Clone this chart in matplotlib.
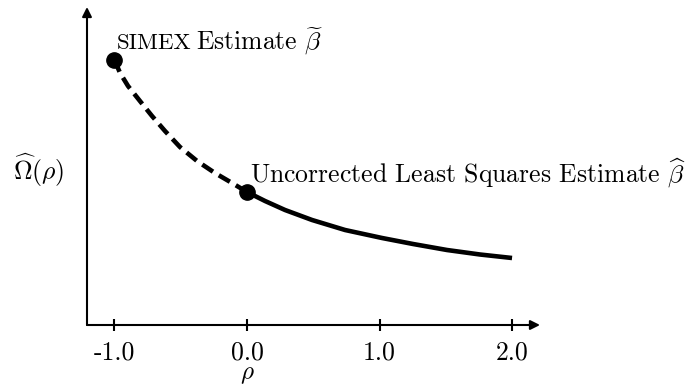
import matplotlib
matplotlib.use("Agg")
import matplotlib.pyplot as plt

plt.rcParams['font.family'] = ['cmr10', 'DejaVu Serif']
plt.rcParams['mathtext.fontset'] = 'cm'
plt.rcParams['axes.unicode_minus'] = False

# curve (rho, height above the x axis)
rho_simex = [-1.0, -0.958, -0.898, -0.808, -0.717, -0.619, -0.506, -0.377,
             -0.242, -0.113, 0.0]
omega_simex = [265, 252, 239, 224, 209, 194, 178, 164, 152, 142, 133]
rho_ls = [0.0, 0.136, 0.287, 0.491, 0.740, 1.019, 1.253, 1.509, 1.758, 2.0]
omega_ls = [133, 124, 115, 105, 95, 87, 81, 75, 70.5, 67]

tick_vals = [-1.0, 0.0, 1.0, 2.0]
tick_labels = ['-1.0', '0.0', '1.0', '2.0']

W, H = 699, 388
fig = plt.figure(figsize=(W / 100, H / 100), dpi=100)
ax = fig.add_axes([87 / W, (H - 325) / H, (540 - 87) / W, (325 - 7) / H])
ax.set_xlim(-1.2075, 2.211)
ax.set_ylim(0, 318)

for s in ax.spines.values():
    s.set_visible(False)

# axes with arrow heads
arrow = dict(arrowstyle='-|>', lw=1.5, color='black', mutation_scale=14,
             shrinkA=0, shrinkB=0)
ax.annotate('', xy=(1, 0), xytext=(0, 0), xycoords='axes fraction',
            arrowprops=arrow, annotation_clip=False)
ax.annotate('', xy=(0, 1), xytext=(0, 0), xycoords='axes fraction',
            arrowprops=arrow, annotation_clip=False)

ax.set_xticks(tick_vals)
ax.set_xticklabels(tick_labels, fontsize=18.5)
ax.set_yticks([])
ax.tick_params(axis='x', direction='inout', length=8, width=1.5, pad=7)

# curves
ax.plot(rho_simex, omega_simex, color='black', lw=3.3, ls=(0, (2.8, 1.5)),
        solid_capstyle='butt', dash_capstyle='butt', solid_joinstyle='round')
ax.plot(rho_ls, omega_ls, color='black', lw=3.3, solid_capstyle='butt',
        solid_joinstyle='round')
ax.plot([rho_simex[0], rho_ls[0]], [omega_simex[0], omega_ls[0]], 'o',
        color='black', ms=11, ls='none')

# annotations
ax.text(-0.981, 276, 'SIMEX', fontsize=16.5, va='baseline')
ax.text(-0.385, 276, r'Estimate $\widetilde{\beta}$', fontsize=18.5,
        va='baseline')
ax.text(0.023, 142, r'Uncorrected Least Squares Estimate $\widehat{\beta}$',
        fontsize=18.5, va='baseline')

fig.text(39 / W, 1 - 170 / H, r'$\widehat{\Omega}(\rho)$', fontsize=18.5,
         ha='center', va='center')
fig.text(247 / W, 2 / H, r'$\rho$', fontsize=18, ha='center',
         va='bottom')

fig.savefig('out.png', dpi=100)
